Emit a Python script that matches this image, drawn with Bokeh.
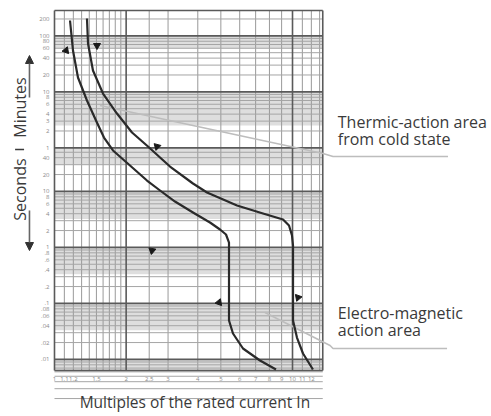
from bokeh.plotting import figure
from bokeh.models import Range1d, Arrow, NormalHead
from bokeh.core.properties import value
from bokeh.embed import file_html
from bokeh.resources import INLINE

# ---- data (x: multiples of In, y: time in seconds) ----
curve_low_x = [1.162, 1.196, 1.255, 1.369, 1.494, 1.614, 1.761, 2.076, 2.447, 2.776, 3.208,
               3.818, 4.501, 4.960, 5.255, 5.410, 5.410, 5.623, 6.194, 7.302, 8.525]
curve_low_t = [11270, 3281, 1081, 420, 184.6, 91.7, 53.8, 29.0, 15.65, 10.38, 6.60,
               4.20, 2.784, 2.087, 1.70, 1.223, 0.0495, 0.029, 0.01565, 0.00956, 0.0066]

curve_high_x = [1.369, 1.383, 1.451, 1.599, 1.830, 2.117, 2.471, 2.776, 3.057, 3.818, 4.373,
                5.846, 7.517, 9.124, 9.667, 9.952, 10.05, 10.05, 10.44, 11.07, 12.19]
curve_high_t = [12230, 4377, 1442, 560, 246, 112.7, 63.4, 40.3, 27.8, 13.84, 9.56,
                5.60, 4.03, 3.15, 2.46, 1.63, 1.08, 0.0495, 0.0246, 0.01275, 0.0066]

marker_x = [1.118, 1.509, 2.696, 2.569, 4.911, 10.55]
marker_t = [3281, 4031, 63.4, 0.88, 0.1038, 0.1274]
marker_angle = [100, 60, 45, 170, 100, -80]

x_ticks = [1, 1.1, 1.2, 1.5, 2, 2.5, 3, 4, 5, 6, 7, 8, 9, 10, 11, 12]
x_tick_labels = ["1", "1.1", "1.2", "1.5", "2", "2.5", "3", "4", "5", "6", "7", "8", "9", "10", "11", "12"]

sec_ticks = [40, 20, 10, 8, 6, 4, 2, 1, 0.8, 0.6, 0.4, 0.2, 0.1, 0.08, 0.06, 0.04, 0.02, 0.01]
sec_labels = ["40", "20", "10", "8", "6", "4", "2", "1", ".8", ".6", ".4", ".2", ".1", ".08", ".06", ".04", ".02", ".01"]
min_ticks = [1, 2, 3, 4, 6, 8, 10, 20, 40, 60, 80, 100, 200]
min_labels = ["1", "2", "3", "4", "6", "8", "10", "20", "40", "60", "80", "100", "200"]

thermic_x = [1.553, 13.43, 14.8, 45.0]
thermic_t = [342, 47.5, 42.0, 42.0]
electro_x = [7.66, 14.38, 14.8, 44.6]
electro_t = [0.0688, 0.0177, 0.01565, 0.01565]

# ---- decorative grid description ----
X_MIN, X_MAX = 1.0, 13.4
T_MIN, T_MAX = 0.00634, 17000
v_minor = [1.1, 1.2, 1.3, 1.4, 1.5, 1.6, 1.7, 1.8, 1.9, 2.5, 3, 4, 5, 6, 7, 8, 9, 11, 12, 13]
v_major = [1, 2, 10, X_MAX]
h_major = [0.01, 0.1, 1, 10, 60, 600, 6000]
h_minor = []
for k in [0.001, 0.01, 0.1, 1, 10]:
    for m in [2, 3, 4, 5, 6, 7, 8, 9]:
        if m * k < 60:
            h_minor.append(m * k)
for k in [60, 600, 6000]:
    for m in [2, 3, 4, 5, 6, 7, 8, 9]:
        if m * k < T_MAX:
            h_minor.append(m * k)
bands = [(6000, 3600), (600, 150), (60, 30), (10, 3.2), (1, 0.33), (0.1, 0.033), (0.01, T_MIN)]

# whole canvas is the plotting frame; log scales carry every mark and text
p = figure(width=488, height=414, x_axis_type="log", y_axis_type="log",
           x_range=Range1d(0.5931, 66.6), y_range=Range1d(0.001038, 25650),
           output_backend="svg", toolbar_location=None)
p.min_border = 0
p.outline_line_color = None
p.xaxis.visible = False
p.yaxis.visible = False
p.xgrid.visible = False
p.ygrid.visible = False

# bands
p.quad(left=[X_MIN] * len(bands), right=[X_MAX] * len(bands),
       top=[b[0] for b in bands], bottom=[b[1] for b in bands],
       fill_color="#dedede", line_color=None)

# grid lines
p.multi_line(xs=[[v, v] for v in v_minor], ys=[[T_MIN, T_MAX]] * len(v_minor),
             line_color="#999999", line_width=1)
p.multi_line(xs=[[X_MIN, X_MAX]] * len(h_minor), ys=[[t, t] for t in h_minor],
             line_color="#a5a5a5", line_width=1)
p.multi_line(xs=[[X_MIN, X_MAX]] * len(h_major), ys=[[t, t] for t in h_major],
             line_color="#5a5a5a", line_width=1.6)
p.multi_line(xs=[[v, v] for v in v_major], ys=[[T_MIN, T_MAX]] * len(v_major),
             line_color="#5a5a5a", line_width=1.6)
p.multi_line(xs=[[X_MIN, X_MAX], [X_MIN, X_MAX]], ys=[[T_MIN, T_MIN], [T_MAX, T_MAX]],
             line_color="#5a5a5a", line_width=1.4)

# leader lines
p.line(thermic_x, thermic_t, line_color="#bdbdbd", line_width=1.6)
p.line(electro_x, electro_t, line_color="#bdbdbd", line_width=1.6)

# curves
p.line(curve_low_x, curve_low_t, line_color="#2a2a2a", line_width=2.2, line_join="round")
p.line(curve_high_x, curve_high_t, line_color="#2a2a2a", line_width=2.2, line_join="round")
p.scatter(marker_x, marker_t, marker="triangle", size=7, angle=marker_angle,
          angle_units="deg", fill_color="#1a1a1a", line_color="#1a1a1a")

font = value("Open Sans")
tick_font = value("Open Sans")

# tick labels (placed with the log scales, just outside the grid)
p.text(x=x_ticks, y=[0.00456] * len(x_ticks), text=x_tick_labels,
       text_font=tick_font, text_font_size="6px", text_color="#8a8a8a",
       text_align="center", text_baseline="middle")
y_vals = [float(t) for t in sec_ticks] + [float(60 * m) for m in min_ticks]
y_labs = sec_labels + min_labels
p.text(x=[0.9528] * len(y_vals), y=y_vals, text=y_labs,
       text_font=tick_font, text_font_size="6px", text_color="#8a8a8a",
       text_align="right", text_baseline="middle")

# annotation texts
p.text(x=[15.5, 15.5, 15.5, 15.5], y=[177, 88, 0.0688, 0.0342],
       text=["Thermic-action area", "from cold state", "Electro-magnetic", "action area"],
       text_font=font, text_font_size="16px", text_color="#3a3a3a",
       text_align="left", text_baseline="middle")

# side labels
p.text(x=[0.713, 0.713], y=[315, 10.8], text=["Minutes", "Seconds"], angle=[90, 90],
       angle_units="deg", text_font=font, text_font_size="16px", text_color="#3a3a3a",
       text_align="center", text_baseline="middle")
p.line(x=[0.683, 0.745], y=[56, 56], line_color="#3a3a3a", line_width=1.3)

# direction arrows
p.add_layout(Arrow(end=NormalHead(size=8, fill_color="#333333", line_color="#333333"),
                   x_start=0.785, y_start=475, x_end=0.785, y_end=2672,
                   line_color="#666666", line_width=1.6))
p.add_layout(Arrow(end=NormalHead(size=8, fill_color="#333333", line_color="#333333"),
                   x_start=0.785, y_start=4.56, x_end=0.785, y_end=0.88,
                   line_color="#666666", line_width=1.6))

# x-axis title
p.text(x=[3.89], y=[0.001771], text=["Multiples of the rated current In"],
       text_font=font, text_font_size="15.5px", text_color="#3a3a3a",
       text_align="center", text_baseline="middle")

open("out.html", "w").write(file_html(p, INLINE))
